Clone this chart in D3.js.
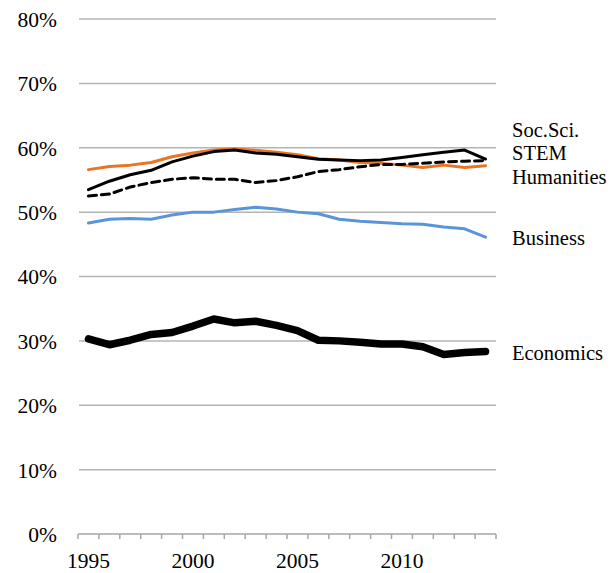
<!DOCTYPE html>
<html>
<head>
<meta charset="utf-8">
<script src="https://cdn.jsdelivr.net/npm/d3@7"></script>
<style>
  html, body { margin: 0; padding: 0; background: #fff; }
  svg { display: block; font-family: "Liberation Serif", "Times New Roman", serif; }
</style>
</head>
<body>
<svg class="js-render-chart" width="613" height="573"></svg>
<script>
"use strict";

//data

const years = d3.range(1995, 2015);

const yearLabels = [1995, 2000, 2005, 2010];

const yTicks = [0, 10, 20, 30, 40, 50, 60, 70, 80];

const socSci = [53.5, 54.8, 55.8, 56.5, 57.8, 58.7, 59.4, 59.65, 59.2, 59.0, 58.6, 58.2, 58.1, 58.0, 58.1, 58.5, 58.9, 59.3, 59.65, 58.25];
const stem = [52.5, 52.8, 53.9, 54.6, 55.1, 55.35, 55.1, 55.1, 54.6, 54.9, 55.5, 56.3, 56.6, 57.05, 57.4, 57.4, 57.6, 57.8, 57.9, 58.0];
const humanities = [56.6, 57.1, 57.3, 57.7, 58.6, 59.2, 59.65, 59.8, 59.6, 59.3, 58.9, 58.3, 58.1, 57.7, 57.6, 57.3, 56.95, 57.3, 56.95, 57.2];
const business = [48.3, 48.9, 49.0, 48.9, 49.55, 50.0, 50.0, 50.4, 50.75, 50.5, 50.0, 49.75, 48.9, 48.6, 48.4, 48.2, 48.1, 47.7, 47.4, 46.1];
const economics = [30.3, 29.4, 30.1, 31.0, 31.3, 32.3, 33.4, 32.8, 33.05, 32.4, 31.6, 30.1, 30.0, 29.8, 29.5, 29.5, 29.1, 27.9, 28.2, 28.35];

const series = [
  { name: "Humanities", values: humanities, color: "#ea7426", width: 3, dash: null },
  { name: "STEM", values: stem, color: "#000", width: 3, dash: "8,5" },
  { name: "Soc.Sci.", values: socSci, color: "#000", width: 3, dash: null },
  { name: "Business", values: business, color: "#5b94d9", width: 3, dash: null },
  { name: "Economics", values: economics, color: "#000", width: 7.5, dash: null }
];

const labels = [
  { text: "Soc.Sci.", y: 137 },
  { text: "STEM", y: 160 },
  { text: "Humanities", y: 184 },
  { text: "Business", y: 245 },
  { text: "Economics", y: 360 }
];

//layout

const plot = { left: 78, right: 496, top: 19, bottom: 534 };

const svg = d3.select(".js-render-chart");

//scales

const x = d3.scaleBand()
  .domain(years)
  .range([plot.left, plot.right]);

const y = d3.scaleLinear()
  .domain([0, 80])
  .range([plot.bottom, plot.top]);

const cx = (i) => x(years[i]) + x.bandwidth() / 2;

//grid

svg.append("g")
  .selectAll("line")
  .data(yTicks.slice(1))
  .enter()
  .append("line")
  .attr("x1", plot.left + 1)
  .attr("x2", plot.right)
  .attr("y1", (d) => y(d))
  .attr("y2", (d) => y(d))
  .attr("stroke", "#b4b4b4")
  .attr("stroke-width", 1.5);

//y axis labels

svg.append("g")
  .selectAll("text")
  .data(yTicks)
  .enter()
  .append("text")
  .attr("x", 57)
  .attr("y", (d) => y(d))
  .attr("dy", "0.37em")
  .attr("text-anchor", "end")
  .attr("font-size", 21.5)
  .attr("fill", "#000")
  .text((d) => `${d}%`);

//x axis

const xAxis = svg.append("g");

xAxis.append("line")
  .attr("x1", plot.left)
  .attr("x2", plot.right)
  .attr("y1", plot.bottom)
  .attr("y2", plot.bottom)
  .attr("stroke", "#a6a6a6")
  .attr("stroke-width", 1.5);

xAxis.selectAll(".tick")
  .data(years.concat([2015]))
  .enter()
  .append("line")
  .attr("class", "tick")
  .attr("x1", (d, i) => i < years.length ? x(d) : plot.right)
  .attr("x2", (d, i) => i < years.length ? x(d) : plot.right)
  .attr("y1", plot.bottom)
  .attr("y2", plot.bottom + 5)
  .attr("stroke", "#a6a6a6")
  .attr("stroke-width", 1.5);

xAxis.selectAll("text")
  .data(yearLabels)
  .enter()
  .append("text")
  .attr("x", (d) => x(d) + x.bandwidth() / 2)
  .attr("y", 568)
  .attr("text-anchor", "middle")
  .attr("font-size", 21.5)
  .attr("fill", "#000")
  .text((d) => d);

//lines

const lineFn = d3.line()
  .x((d, i) => cx(i))
  .y((d) => y(d));

svg.append("g")
  .selectAll("path")
  .data(series)
  .enter()
  .append("path")
  .attr("d", (d) => lineFn(d.values))
  .attr("fill", "none")
  .attr("stroke", (d) => d.color)
  .attr("stroke-width", (d) => d.width)
  .attr("stroke-dasharray", (d) => d.dash)
  .attr("stroke-linejoin", "round")
  .attr("stroke-linecap", "round");

//series labels

svg.append("g")
  .selectAll("text")
  .data(labels)
  .enter()
  .append("text")
  .attr("x", 512)
  .attr("y", (d) => d.y)
  .attr("font-size", 20.5)
  .attr("fill", "#000")
  .text((d) => d.text);

</script>
</body>
</html>
